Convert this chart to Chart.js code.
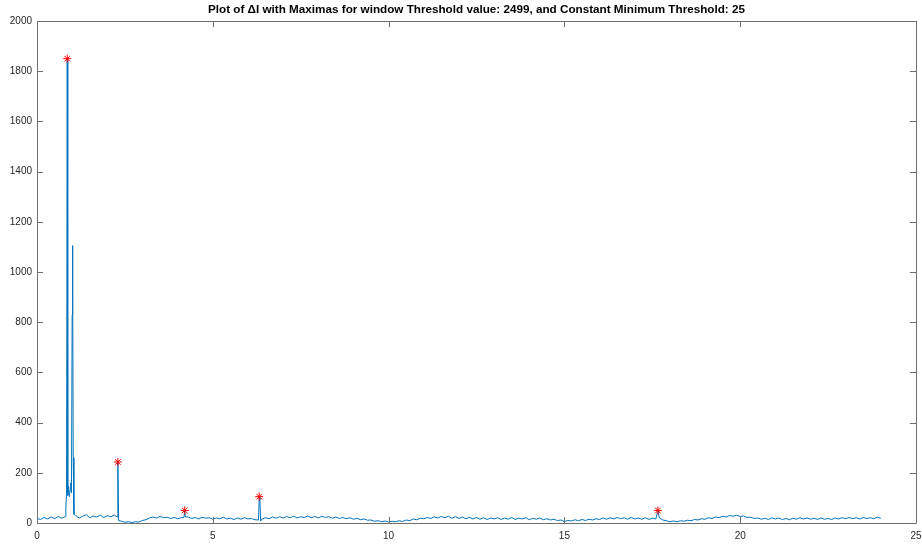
<!DOCTYPE html>
<html>
<head>
<meta charset="utf-8">
<script src="https://cdn.jsdelivr.net/npm/chart.js@4.4.1/dist/chart.umd.min.js"></script>
<style>
  body { margin: 0; background: #fff; }
  canvas { display: block; }
</style>
</head>
<body>
<canvas id="deltaChart" width="922" height="545"></canvas>
<script>
const chartTitle = 'Plot of \u0394I with Maximas for window Threshold value: 2499, and Constant Minimum Threshold: 25';

// time axis (x) and delta I values, row by row
const timeS = [
    0.0, 0.1, 0.2, 0.3, 0.4, 0.5, 0.6, 0.7, 0.8,
    0.82, 0.84, 0.86, 0.87, 0.88, 0.90, 0.92, 0.94, 0.96, 0.98, 1.00, 1.01, 1.02, 1.03, 1.05,
    1.1, 1.2, 1.3, 1.4, 1.5, 1.6, 1.7, 1.8, 1.9, 2.0, 2.1, 2.2,
    2.28, 2.30, 2.32,
    2.4, 2.5, 2.6, 2.7, 2.8, 2.9, 3.0, 3.1, 3.2,
    3.3, 3.4, 3.5, 3.6, 3.7, 3.8, 3.9, 4.0, 4.1,
    4.18, 4.20, 4.22,
    4.3, 4.4, 4.5, 4.6, 4.7, 4.8, 4.9, 5.0, 5.1, 5.2, 5.3, 5.4, 5.5, 5.6, 5.7, 5.8, 5.9, 6.0, 6.1, 6.2,
    6.30, 6.32, 6.34, 6.36,
    6.4, 6.5, 6.6, 6.7, 6.8, 6.9, 7.0, 7.1, 7.2, 7.3, 7.4, 7.5, 7.6, 7.7, 7.8, 7.9,
    8.0, 8.1, 8.2, 8.3, 8.4, 8.5, 8.6, 8.7, 8.8, 8.9, 9.0, 9.1, 9.2, 9.3, 9.4,
    9.5, 9.6, 9.7, 9.8, 9.9, 10.0, 10.1, 10.2, 10.3, 10.4, 10.5, 10.6, 10.7, 10.8, 10.9,
    11.0, 11.1, 11.2, 11.3, 11.4, 11.5, 11.6, 11.7, 11.8, 11.9, 12.0, 12.1, 12.2, 12.3, 12.4, 12.5, 12.6, 12.7, 12.8, 12.9,
    13.0, 13.1, 13.2, 13.3, 13.4, 13.5, 13.6, 13.7, 13.8, 13.9, 14.0, 14.1, 14.2, 14.3, 14.4, 14.5, 14.6, 14.7, 14.8, 14.9,
    15.0, 15.1, 15.2, 15.3, 15.4, 15.5, 15.6, 15.7, 15.8, 15.9,
    16.0, 16.1, 16.2, 16.3, 16.4, 16.5, 16.6, 16.7, 16.8, 16.9, 17.0, 17.1, 17.2, 17.3, 17.4, 17.5, 17.6,
    17.66, 17.7, 17.8,
    17.9, 18.0, 18.1, 18.2, 18.3, 18.4, 18.5, 18.6, 18.7, 18.8, 18.9, 19.0,
    19.1, 19.2, 19.3, 19.4, 19.5, 19.6, 19.7, 19.8, 19.9, 20.0, 20.1, 20.2, 20.3, 20.4,
    20.5, 20.6, 20.7, 20.8, 20.9, 21.0, 21.1, 21.2, 21.3, 21.4, 21.5, 21.6, 21.7, 21.8, 21.9, 22.0, 22.1, 22.2,
    22.3, 22.4, 22.5, 22.6, 22.7, 22.8, 22.9, 23.0, 23.1, 23.2, 23.3, 23.4, 23.5, 23.6, 23.7, 23.8, 23.9, 24.0
];
const deltaI = [
    18, 14, 22, 16, 24, 17, 26, 19, 25,
    60, 115, 1850, 1730, 110, 145, 105, 130, 160, 120, 830, 1105, 940, 260, 35,
    30, 20, 27, 33, 21, 28, 24, 31, 22, 29, 25, 32,
    24, 243, 10,
    7, 3, 5, 2, 5, 4, 10, 13, 20,
    24, 20, 26, 21, 23, 18, 22, 17, 21,
    22, 50, 24,
    24, 18, 22, 16, 23, 19, 21, 15, 20, 17, 23, 16, 19, 14, 20, 15, 21, 16, 18, 13,
    12, 105, 95, 8,
    16, 21, 17, 24, 19, 25, 20, 26, 21, 27, 20, 25, 22, 28, 21, 26,
    20, 27, 22, 25, 19, 24, 18, 22, 17, 21, 15, 19, 13, 16, 11,
    12, 7, 9, 5, 8, 4, 7, 5, 9, 6, 12, 9, 16, 13, 19,
    17, 22, 18, 25, 20, 26, 21, 27, 19, 25, 18, 24, 17, 23, 16, 22, 15, 21, 14, 20,
    16, 21, 14, 20, 15, 22, 14, 19, 16, 21, 13, 19, 15, 20, 13, 17, 12, 15, 10, 12,
    6, 10, 8, 13, 9, 14, 10, 15, 12, 17,
    14, 20, 15, 21, 16, 22, 17, 21, 15, 22, 16, 20, 15, 21, 14, 19, 16,
    50, 20, 12,
    9, 5, 8, 5, 9, 7, 11, 9, 14, 12, 17, 15,
    21, 18, 24, 21, 27, 24, 30, 27, 31, 26, 28, 22, 23, 18,
    20, 15, 19, 14, 21, 16, 20, 14, 18, 13, 19, 15, 21, 16, 20, 15, 19, 14,
    20, 15, 18, 14, 20, 16, 21, 17, 22, 17, 21, 16, 22, 18, 21, 17, 23, 19
];

// detected maxima
const peakX = [0.86, 2.30, 4.20, 6.32, 17.66];
const peakY = [1850, 243, 50, 105, 50];

const xTicks = [0, 5, 10, 15, 20, 25];
const yTicks = [0, 200, 400, 600, 800, 1000, 1200, 1400, 1600, 1800, 2000];

const axisColor = '#6e6e6e';
const labelColor = '#262626';

// MATLAB-like box: outline, inward ticks on all four sides, title over the plot area
const matlabBox = {
    id: 'matlabBox',
    afterDraw(chart) {
        const ctx = chart.ctx;
        const area = chart.chartArea;
        const xs = chart.scales.x;
        const ys = chart.scales.y;
        const tickLen = 6;
        ctx.save();
        ctx.strokeStyle = axisColor;
        ctx.lineWidth = 1;
        ctx.beginPath();
        ctx.rect(Math.round(area.left) + 0.5, Math.round(area.top) + 0.5,
            Math.round(area.right - area.left), Math.round(area.bottom - area.top));
        ctx.stroke();
        ctx.beginPath();
        xTicks.forEach(v => {
            const px = Math.round(xs.getPixelForValue(v)) + 0.5;
            ctx.moveTo(px, area.bottom);
            ctx.lineTo(px, area.bottom - tickLen);
            ctx.moveTo(px, area.top);
            ctx.lineTo(px, area.top + tickLen);
        });
        yTicks.forEach(v => {
            const py = Math.round(ys.getPixelForValue(v)) + 0.5;
            ctx.moveTo(area.left, py);
            ctx.lineTo(area.left + tickLen, py);
            ctx.moveTo(area.right, py);
            ctx.lineTo(area.right - tickLen, py);
        });
        ctx.stroke();

        ctx.fillStyle = '#000';
        ctx.font = 'bold 11.7px "Liberation Sans", Arial, sans-serif';
        ctx.textAlign = 'center';
        ctx.textBaseline = 'middle';
        ctx.fillText(chartTitle, (area.left + area.right) / 2, 10);
        ctx.restore();
    }
};

const lineData = timeS.map((t, i) => ({ x: t, y: deltaI[i] }));
const peakData = peakX.map((t, i) => ({ x: t, y: peakY[i] }));

const ctx = document.getElementById('deltaChart').getContext('2d');
const chart = new Chart(ctx, {
    type: 'line',
    data: {
        datasets: [{
            label: 'Maximas',
            data: peakData,
            showLine: false,
            pointStyle: 'star',
            pointRadius: 4,
            borderColor: '#ff0000',
            backgroundColor: '#ff0000',
            borderWidth: 1,
            order: 0
        },
        {
            label: 'deltaI',
            data: lineData,
            borderColor: '#0072bd',
            borderWidth: 1,
            pointRadius: 0,
            tension: 0,
            order: 1
        }]
    },
    options: {
        responsive: false,
        animation: false,
        layout: { padding: { top: 21, left: 0, right: 0, bottom: 0 } },
        plugins: {
            legend: { display: false },
            title: { display: false },
            tooltip: { enabled: false }
        },
        scales: {
            x: {
                type: 'linear',
                min: 0,
                max: 25,
                grid: { display: false, drawTicks: false },
                border: { display: false },
                afterBuildTicks: s => { s.ticks = xTicks.map(v => ({ value: v })); },
                afterFit: s => { s.height = 22; s.paddingRight = 6; s.paddingLeft = 0; },
                ticks: {
                    padding: 7,
                    maxRotation: 0,
                    color: labelColor,
                    font: { family: '"Liberation Sans", Arial, sans-serif', size: 10 },
                    callback: v => String(v)
                }
            },
            y: {
                min: 0,
                max: 2000,
                grid: { display: false, drawTicks: false },
                border: { display: false },
                afterBuildTicks: s => { s.ticks = yTicks.map(v => ({ value: v })); },
                afterFit: s => { s.width = 37; },
                ticks: {
                    padding: 5,
                    color: labelColor,
                    font: { family: '"Liberation Sans", Arial, sans-serif', size: 10 },
                    callback: v => String(v)
                }
            }
        }
    },
    plugins: [matlabBox]
});
</script>
</body>
</html>
